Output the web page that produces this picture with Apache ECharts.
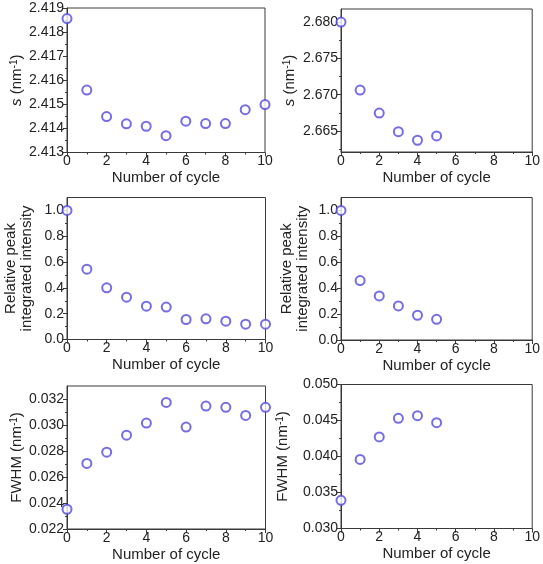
<!DOCTYPE html>
<html>
<head>
<meta charset="utf-8">
<script src="https://cdn.jsdelivr.net/npm/echarts@6/dist/echarts.min.js"></script>
<style>
  html, body { margin: 0; padding: 0; background: #fff; }
  #chart { width: 543px; height: 564px; }
</style>
</head>
<body>
<div id="chart"></div>
<script>
// cycle numbers
const cyclesLeft = [0, 1, 2, 3, 4, 5, 6, 7, 8, 9, 10]
const cyclesRight = [0, 1, 2, 3, 4, 5]

// peak position s (nm^-1)
const sLeft = [2.41856, 2.41559, 2.41449, 2.41419, 2.41409, 2.41370, 2.41430, 2.41420, 2.41420, 2.41478, 2.41499]
const sRight = [2.68000, 2.67063, 2.66747, 2.66490, 2.66372, 2.66431]

// relative peak integrated intensity
const intensityLeft = [1.00, 0.545, 0.40, 0.328, 0.258, 0.251, 0.155, 0.160, 0.142, 0.119, 0.119]
const intensityRight = [1.00, 0.459, 0.340, 0.263, 0.191, 0.160]

// FWHM (nm^-1)
const fwhmLeft = [0.02352, 0.02704, 0.02791, 0.02922, 0.03015, 0.03174, 0.02984, 0.03146, 0.03136, 0.03074, 0.03136]
const fwhmRight = [0.03392, 0.03959, 0.04272, 0.04530, 0.04567, 0.04470]

// y tick labels (major) and minor ticks
const sLeftTicks = [2.413, 2.414, 2.415, 2.416, 2.417, 2.418, 2.419]
const sLeftMinor = [2.4135, 2.4145, 2.4155, 2.4165, 2.4175, 2.4185]
const sRightTicks = [2.665, 2.670, 2.675, 2.680]
const sRightMinor = [2.6625, 2.6675, 2.6725, 2.6775]
const intensityTicks = [0, 0.2, 0.4, 0.6, 0.8, 1.0]
const intensityMinor = [0.1, 0.3, 0.5, 0.7, 0.9]
const fwhmLeftTicks = [0.022, 0.024, 0.026, 0.028, 0.030, 0.032]
const fwhmLeftMinor = [0.023, 0.025, 0.027, 0.029, 0.031]
const fwhmRightTicks = [0.030, 0.035, 0.040, 0.045, 0.050]
const fwhmRightMinor = [0.0325, 0.0375, 0.0425, 0.0475]

const FONT = "'Liberation Sans', Arial, sans-serif"
const TEXT = '#222'
const LINE = '#3a3a3a'
const MARK = '#5249e2'

const S_NAME = '{i|s} (nm{sup|-1})'
const FWHM_NAME = 'FWHM (nm{sup|-1})'
const INT_NAME = 'Relative peak\nintegrated intensity'

const nameRich = {
  i: { fontStyle: 'italic', fontSize: 15, fontFamily: FONT, color: TEXT },
  sup: { fontSize: 10, fontFamily: FONT, color: TEXT, verticalAlign: 'top', lineHeight: 10 },
}

// 六个面板：位置 + 数据
const panels = [
  { rect: [67, 8, 198, 144.5], x: cyclesLeft, y: sLeft, min: 2.413, max: 2.419, ticks: sLeftTicks, minor: sLeftMinor, dec: 3, name: S_NAME, gap: 42 },
  { rect: [341, 9, 196, 143], x: cyclesRight, y: sRight, min: 2.6621, max: 2.6818, ticks: sRightTicks, minor: sRightMinor, dec: 3, name: S_NAME, gap: 43 },
  { rect: [67, 197.5, 198.5, 142], x: cyclesLeft, y: intensityLeft, min: 0, max: 1.1, ticks: intensityTicks, minor: intensityMinor, dec: 1, name: INT_NAME, gap: 32 },
  { rect: [341, 197.5, 196, 142.5], x: cyclesRight, y: intensityRight, min: 0, max: 1.1, ticks: intensityTicks, minor: intensityMinor, dec: 1, name: INT_NAME, gap: 30 },
  { rect: [67, 386, 198.5, 143], x: cyclesLeft, y: fwhmLeft, min: 0.022, max: 0.033, ticks: fwhmLeftTicks, minor: fwhmLeftMinor, dec: 3, name: FWHM_NAME, gap: 42 },
  { rect: [341, 384.5, 196, 144], x: cyclesRight, y: fwhmRight, min: 0.030, max: 0.050, ticks: fwhmRightTicks, minor: fwhmRightMinor, dec: 3, name: FWHM_NAME, gap: 50 },
]

const grid = []
const xAxis = []
const yAxis = []
const series = []

panels.forEach((p, i) => {
  const [left, top, width, height] = p.rect
  grid.push({ left, top, width, height, show: true, borderColor: LINE, borderWidth: 1, backgroundColor: 'transparent' })

  xAxis.push({
    type: 'value', gridIndex: i, min: 0, max: 10, interval: 2,
    name: 'Number of cycle', nameLocation: 'middle', nameGap: 18,
    nameTextStyle: { fontSize: 15, fontFamily: FONT, color: TEXT },
    axisLine: { show: true, lineStyle: { color: LINE, width: 1 } },
    axisTick: { show: true, length: 4, lineStyle: { color: LINE } },
    minorTick: { show: true, splitNumber: 2, length: 2, lineStyle: { color: LINE } },
    axisLabel: { fontSize: 14, fontFamily: FONT, color: TEXT, margin: 2 },
    splitLine: { show: false },
  })

  // 主轴：标签 + 主刻度
  yAxis.push({
    type: 'value', gridIndex: i, position: 'left', min: p.min, max: p.max,
    name: p.name, nameLocation: 'middle', nameGap: p.gap, nameRotate: 90,
    nameTextStyle: { fontSize: 15, fontFamily: FONT, color: TEXT, lineHeight: 16, rich: nameRich },
    axisLine: { show: true, lineStyle: { color: LINE, width: 1 } },
    axisTick: { show: true, length: 4, customValues: p.ticks, lineStyle: { color: LINE } },
    axisLabel: {
      fontSize: 14, fontFamily: FONT, color: TEXT, margin: 3,
      customValues: p.ticks,
      formatter: v => Number(v).toFixed(p.dec),
    },
    splitLine: { show: false },
  })
  // 副轴：只画次刻度
  yAxis.push({
    type: 'value', gridIndex: i, position: 'left', offset: 0, min: p.min, max: p.max,
    axisLine: { show: false },
    axisTick: { show: true, length: 2, customValues: p.minor, lineStyle: { color: LINE } },
    axisLabel: { show: false },
    splitLine: { show: false },
  })

  series.push({
    type: 'scatter',
    xAxisIndex: i, yAxisIndex: i * 2,
    data: p.x.map((c, k) => [c, p.y[k]]),
    symbol: 'emptyCircle', symbolSize: 9,
    itemStyle: { color: MARK, borderColor: MARK, borderWidth: 1.1 },
    clip: false,
    silent: true,
  })
})

const chart = echarts.init(document.getElementById('chart'))
chart.setOption({
  backgroundColor: '#fff',
  animation: false,
  grid, xAxis, yAxis, series,
})
</script>
</body>
</html>
